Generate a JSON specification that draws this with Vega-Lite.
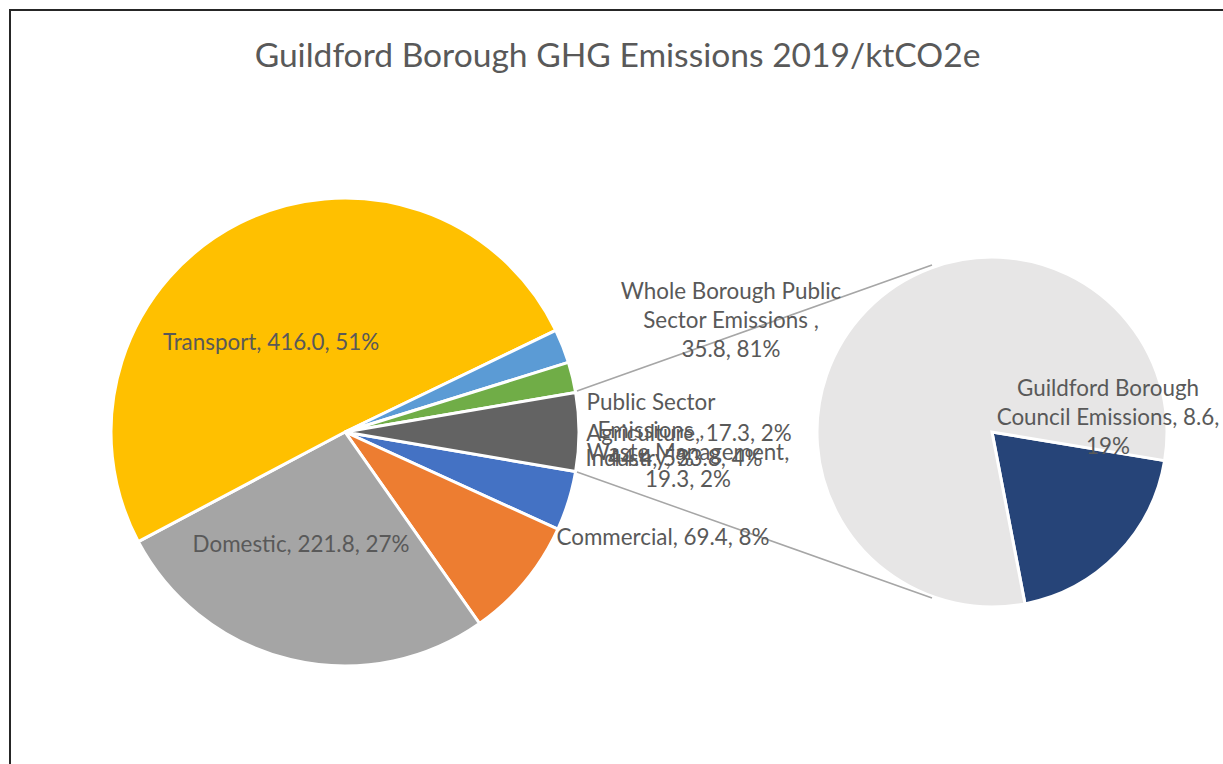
{
  "$schema": "https://vega.github.io/schema/vega-lite/v6.json",
  "width": 1215,
  "height": 756,
  "autosize": "none",
  "padding": {"left": 10, "top": 10, "right": 0, "bottom": 0},
  "background": "white",
  "config": {
    "view": {"stroke": "#262626", "strokeWidth": 2},
    "font": "Lato"
  },
  "title": {
    "text": "Guildford Borough GHG Emissions 2019/ktCO2e",
    "anchor": "middle",
    "offset": -58,
    "dy": 33,
    "baseline": "alphabetic",
    "fontSize": 33.6,
    "fontWeight": "normal",
    "font": "Lato",
    "color": "#595959"
  },
  "datasets": {
    "main": [
      {"category": "Industry", "value": 33.8, "order": 1, "label": "Industry, 33.8, 4%"},
      {"category": "Commercial", "value": 69.4, "order": 2, "label": "Commercial, 69.4, 8%"},
      {"category": "Domestic", "value": 221.8, "order": 3, "label": "Domestic, 221.8, 27%"},
      {"category": "Transport", "value": 416.0, "order": 4, "label": "Transport, 416.0, 51%"},
      {"category": "Waste Management", "value": 19.3, "order": 5, "label": "Waste Management,\n19.3, 2%"},
      {"category": "Agriculture", "value": 17.3, "order": 6, "label": "Agriculture, 17.3, 2%"},
      {"category": "Public Sector Emissions", "value": 44.4, "order": 7, "label": "Public Sector\nEmissions ,\n44.4, 5%"}
    ],
    "detail": [
      {"category": "Guildford Borough Council Emissions", "value": 8.6, "order": 1, "label": "Guildford Borough\nCouncil Emissions, 8.6,\n19%"},
      {"category": "Whole Borough Public Sector Emissions", "value": 35.8, "order": 2, "label": "Whole Borough Public\nSector Emissions ,\n35.8, 81%"}
    ]
  },
  "resolve": {"scale": {"theta": "independent"}},
  "layer": [
    {
      "data": {"name": "main"},
      "mark": {"type": "arc", "outerRadius": 234, "stroke": "white", "strokeWidth": 3},
      "encoding": {
        "x": {"datum": 345, "type": "quantitative", "scale": {"domain": [10, 1225], "nice": false, "zero": false}, "axis": null},
        "y": {"datum": 432, "type": "quantitative", "scale": {"domain": [10, 766], "nice": false, "zero": false, "reverse": true}, "axis": null},
        "theta": {"field": "value", "type": "quantitative", "stack": true, "scale": {"range": [1.7405, 8.0237]}},
        "order": {"field": "order", "type": "quantitative"},
        "color": {
          "field": "category",
          "type": "nominal",
          "legend": null,
          "scale": {
            "domain": ["Industry", "Commercial", "Domestic", "Transport", "Waste Management", "Agriculture", "Public Sector Emissions", "Guildford Borough Council Emissions", "Whole Borough Public Sector Emissions"],
            "range": ["#4472C4", "#ED7D31", "#A5A5A5", "#FFC000", "#5B9BD5", "#70AD47", "#636363", "#264478", "#E7E6E6"]
          }
        }
      }
    },
    {
      "data": {"name": "detail"},
      "mark": {"type": "arc", "outerRadius": 175, "stroke": "white", "strokeWidth": 3},
      "encoding": {
        "x": {"datum": 992, "type": "quantitative"},
        "y": {"datum": 432, "type": "quantitative"},
        "theta": {"field": "value", "type": "quantitative", "stack": true, "scale": {"range": [1.735, 8.0182]}},
        "order": {"field": "order", "type": "quantitative"},
        "color": {"field": "category", "type": "nominal", "legend": null}
      }
    },
    {
      "data": {"values": [{}]},
      "mark": {"type": "rule", "color": "#A6A6A6", "strokeWidth": 1.5},
      "encoding": {
        "x": {"datum": 577, "type": "quantitative"},
        "y": {"datum": 391, "type": "quantitative"},
        "x2": {"datum": 932},
        "y2": {"datum": 265}
      }
    },
    {
      "data": {"values": [{}]},
      "mark": {"type": "rule", "color": "#A6A6A6", "strokeWidth": 1.5},
      "encoding": {
        "x": {"datum": 577, "type": "quantitative"},
        "y": {"datum": 472, "type": "quantitative"},
        "x2": {"datum": 932},
        "y2": {"datum": 598}
      }
    },
    {
      "data": {"name": "main"},
      "transform": [{"filter": "datum.category === 'Transport'"}],
      "mark": {"type": "text", "fontSize": 22.4, "color": "#595959", "align": "center", "baseline": "middle", "lineBreak": "\n", "lineHeight": 28},
      "encoding": {"x": {"datum": 271, "type": "quantitative"}, "y": {"datum": 343, "type": "quantitative"}, "text": {"field": "label"}}
    },
    {
      "data": {"name": "main"},
      "transform": [{"filter": "datum.category === 'Domestic'"}],
      "mark": {"type": "text", "fontSize": 22.4, "color": "#595959", "align": "center", "baseline": "middle", "lineBreak": "\n", "lineHeight": 28},
      "encoding": {"x": {"datum": 301, "type": "quantitative"}, "y": {"datum": 545, "type": "quantitative"}, "text": {"field": "label"}}
    },
    {
      "data": {"name": "main"},
      "transform": [{"filter": "datum.category === 'Commercial'"}],
      "mark": {"type": "text", "fontSize": 22.4, "color": "#595959", "align": "center", "baseline": "middle", "lineBreak": "\n", "lineHeight": 28},
      "encoding": {"x": {"datum": 663, "type": "quantitative"}, "y": {"datum": 538, "type": "quantitative"}, "text": {"field": "label"}}
    },
    {
      "data": {"name": "main"},
      "transform": [{"filter": "datum.category === 'Public Sector Emissions'"}],
      "mark": {"type": "text", "fontSize": 22.4, "color": "#595959", "align": "center", "baseline": "middle", "lineBreak": "\n", "lineHeight": 28},
      "encoding": {"x": {"datum": 651, "type": "quantitative"}, "y": {"datum": 403, "type": "quantitative"}, "text": {"field": "label"}}
    },
    {
      "data": {"name": "main"},
      "transform": [{"filter": "datum.category === 'Agriculture'"}],
      "mark": {"type": "text", "fontSize": 22.4, "color": "#595959", "align": "center", "baseline": "middle", "lineBreak": "\n", "lineHeight": 28},
      "encoding": {"x": {"datum": 689, "type": "quantitative"}, "y": {"datum": 434, "type": "quantitative"}, "text": {"field": "label"}}
    },
    {
      "data": {"name": "main"},
      "transform": [{"filter": "datum.category === 'Industry'"}],
      "mark": {"type": "text", "fontSize": 22.4, "color": "#595959", "align": "center", "baseline": "middle", "lineBreak": "\n", "lineHeight": 28},
      "encoding": {"x": {"datum": 674, "type": "quantitative"}, "y": {"datum": 459, "type": "quantitative"}, "text": {"field": "label"}}
    },
    {
      "data": {"name": "main"},
      "transform": [{"filter": "datum.category === 'Waste Management'"}],
      "mark": {"type": "text", "fontSize": 22.4, "color": "#595959", "align": "center", "baseline": "middle", "lineBreak": "\n", "lineHeight": 27},
      "encoding": {"x": {"datum": 688, "type": "quantitative"}, "y": {"datum": 453, "type": "quantitative"}, "text": {"field": "label"}}
    },
    {
      "data": {"name": "detail"},
      "transform": [{"filter": "datum.category === 'Whole Borough Public Sector Emissions'"}],
      "mark": {"type": "text", "fontSize": 22.4, "color": "#595959", "align": "center", "baseline": "middle", "lineBreak": "\n", "lineHeight": 29},
      "encoding": {"x": {"datum": 731, "type": "quantitative"}, "y": {"datum": 292, "type": "quantitative"}, "text": {"field": "label"}}
    },
    {
      "data": {"name": "detail"},
      "transform": [{"filter": "datum.category === 'Guildford Borough Council Emissions'"}],
      "mark": {"type": "text", "fontSize": 22.4, "color": "#595959", "align": "center", "baseline": "middle", "lineBreak": "\n", "lineHeight": 29},
      "encoding": {"x": {"datum": 1108, "type": "quantitative"}, "y": {"datum": 389, "type": "quantitative"}, "text": {"field": "label"}}
    }
  ]
}
